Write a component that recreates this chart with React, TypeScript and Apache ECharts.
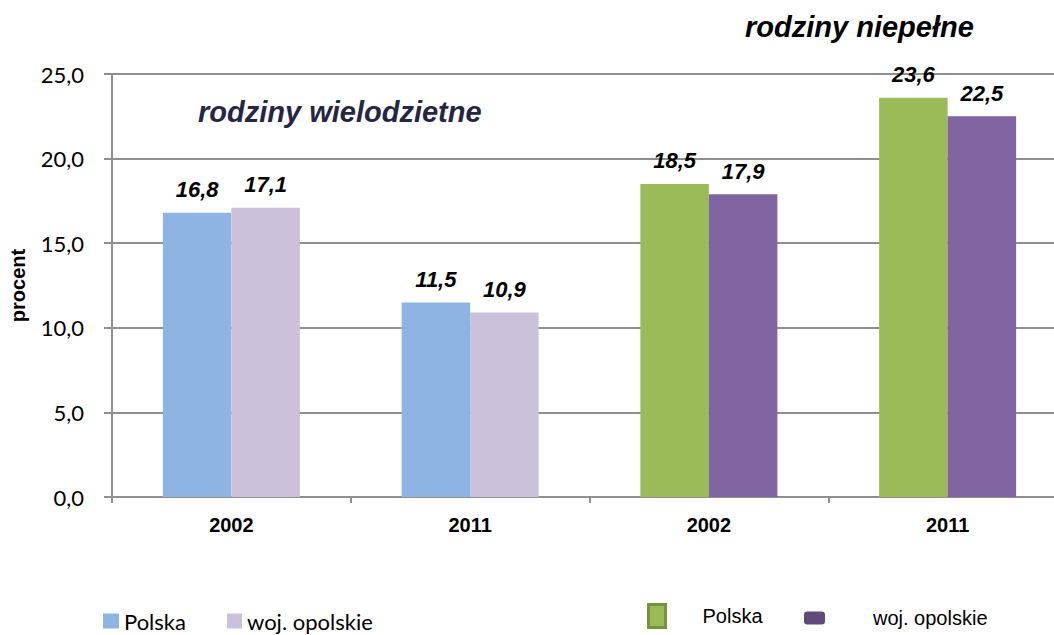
import React, { useEffect, useRef } from "react";
import * as echarts from "echarts";

const categories = ["2002", "2011", "2002", "2011"];
const polskaWielodzietne = [16.8, 11.5, null, null];
const opolskieWielodzietne = [17.1, 10.9, null, null];
const polskaNiepelne = [null, null, 18.5, 23.6];
const opolskieNiepelne = [null, null, 17.9, 22.5];
const yTicks = { min: 0, max: 25, interval: 5 };

const ARIAL = 'Arial, "Liberation Sans", sans-serif';
const CAL = 'Lato, "Open Sans", sans-serif';
const AXIS_GRAY = "#8f8f8f";

const fmt = (v: number | null) => (v == null ? "" : v.toFixed(1).replace(".", ","));

export default function App() {
  const ref = useRef<HTMLDivElement>(null);
  useEffect(() => {
    if (!ref.current) return;
    document.body.style.overflow = "hidden";
    const chart = echarts.init(ref.current, undefined, { renderer: "svg" });
    const label = {
      show: true,
      position: "top" as const,
      distance: 12,
      fontFamily: ARIAL,
      fontWeight: "bold" as const,
      fontStyle: "italic" as const,
      fontSize: 22,
      color: "#000",
      formatter: (p: any) => fmt(p.value),
    };
    const bar = (name: string, data: (number | null)[], stack: string, color: string) => ({
      type: "bar" as const,
      name,
      data,
      stack,
      barWidth: 68.5,
      barGap: "0%",
      itemStyle: { color },
      label,
    });
    chart.setOption({
      animation: false,
      grid: { left: 111, width: 956, top: 74, height: 423 },
      xAxis: {
        type: "category",
        data: categories,
        axisLine: { lineStyle: { color: AXIS_GRAY, width: 2 } },
        axisTick: { show: true, length: 6, interval: 0, alignWithLabel: false, lineStyle: { color: AXIS_GRAY, width: 2 } },
        axisLabel: { fontFamily: ARIAL, fontWeight: "bold", fontSize: 20, color: "#000", margin: 18, interval: 0 },
      },
      yAxis: {
        type: "value",
        min: yTicks.min,
        max: yTicks.max,
        interval: yTicks.interval,
        name: "procent",
        nameLocation: "middle",
        nameRotate: 90,
        nameGap: 84,
        nameTextStyle: { fontFamily: ARIAL, fontWeight: "bold", fontSize: 20, color: "#000" },
        axisLine: { show: true, lineStyle: { color: AXIS_GRAY, width: 2 } },
        axisTick: { show: true, length: 8, lineStyle: { color: AXIS_GRAY, width: 2 } },
        axisLabel: { fontFamily: CAL, fontSize: 22, color: "#000", margin: 28, formatter: (v: number) => fmt(v) },
        splitLine: { show: true, lineStyle: { color: AXIS_GRAY, width: 2 } },
      },
      legend: [
        {
          left: 103,
          top: 610,
          padding: 0,
          itemWidth: 16,
          itemHeight: 15,
          icon: "rect",
          data: ["Polska"],
          textStyle: { fontFamily: CAL, fontSize: 22, color: "#000" },
        },
        {
          left: 227,
          top: 610,
          padding: 0,
          itemWidth: 15,
          itemHeight: 15,
          icon: "rect",
          data: ["woj. opolskie"],
          textStyle: { fontFamily: CAL, fontSize: 22, color: "#000" },
        },
        {
          left: 647,
          top: 603,
          padding: 0,
          itemWidth: 17,
          itemHeight: 23,
          icon: "rect",
          data: [
            {
              name: "Polska (rodziny niepełne)",
              itemStyle: { color: "#9bbb59", borderColor: "#77933c", borderWidth: 3 },
            },
          ],
          formatter: () => "Polska",
          textStyle: { fontFamily: ARIAL, fontSize: 20, color: "#000", padding: [0, 0, 4, 32] },
        },
        {
          left: 804,
          top: 608,
          padding: 0,
          itemWidth: 21,
          itemHeight: 13,
          icon: "roundRect",
          data: [{ name: "woj. opolskie (rodziny niepełne)", itemStyle: { color: "#604a7b" } }],
          formatter: () => "woj. opolskie",
          textStyle: { fontFamily: ARIAL, fontSize: 20, color: "#000", padding: [0, 0, 0, 43] },
        },
      ],
      graphic: [
        {
          type: "text",
          left: 198,
          top: 97,
          style: {
            text: "rodziny wielodzietne",
            fontFamily: ARIAL,
            fontWeight: "bold",
            fontStyle: "italic",
            fontSize: 29,
            fill: "#262642",
          },
        },
        {
          type: "text",
          left: 745,
          top: 12,
          style: {
            text: "rodziny niepełne",
            fontFamily: ARIAL,
            fontWeight: "bold",
            fontStyle: "italic",
            fontSize: 29,
            fill: "#000",
          },
        },
      ],
      series: [
        bar("Polska", polskaWielodzietne, "p", "#8eb4e3"),
        bar("woj. opolskie", opolskieWielodzietne, "w", "#ccc1da"),
        bar("Polska (rodziny niepełne)", polskaNiepelne, "p", "#9bbb59"),
        bar("woj. opolskie (rodziny niepełne)", opolskieNiepelne, "w", "#8064a2"),
      ],
    });
    return () => chart.dispose();
  }, []);
  return (
    <div
      style={{ position: "fixed", left: 0, top: 0, width: 1054, height: 635, overflow: "hidden", background: "#fff" }}
    >
      <div ref={ref} style={{ width: 1080, height: 635 }} />
    </div>
  );
}
